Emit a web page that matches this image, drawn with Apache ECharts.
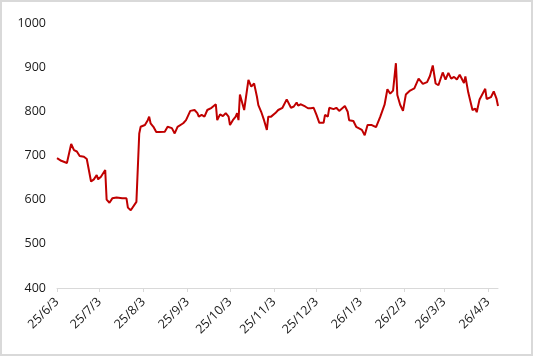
<!DOCTYPE html>
<html>
<head>
<meta charset="utf-8">
<script src="https://cdn.jsdelivr.net/npm/echarts@6/dist/echarts.min.js"></script>
<style>
html,body{margin:0;padding:0;background:#fff;}
#c{width:533px;height:356px;box-sizing:border-box;border:2px solid #d9d9d9;}
</style>
</head>
<body>
<div id="c"></div>
<script>
const dates = [
'2025-06-03','2025-06-06','2025-06-10','2025-06-13','2025-06-15','2025-06-17','2025-06-19','2025-06-22','2025-06-24','2025-06-27',
'2025-06-29','2025-07-01','2025-07-02','2025-07-04','2025-07-07','2025-07-08','2025-07-10','2025-07-12','2025-07-15','2025-07-16',
'2025-07-19','2025-07-22','2025-07-23','2025-07-25','2025-07-29','2025-07-31','2025-08-01','2025-08-04','2025-08-06','2025-08-07',
'2025-08-08','2025-08-10','2025-08-12','2025-08-14','2025-08-18','2025-08-20','2025-08-23','2025-08-25','2025-08-27','2025-08-31',
'2025-09-02','2025-09-05','2025-09-08','2025-09-10','2025-09-11','2025-09-13','2025-09-15','2025-09-17','2025-09-20','2025-09-23',
'2025-09-24','2025-09-26','2025-09-28','2025-09-30','2025-10-02','2025-10-03','2025-10-05','2025-10-07','2025-10-08','2025-10-09',
'2025-10-10','2025-10-13','2025-10-16','2025-10-18','2025-10-20','2025-10-22','2025-10-23','2025-10-25','2025-10-27','2025-10-29',
'2025-10-30','2025-11-01','2025-11-04','2025-11-06','2025-11-09','2025-11-12','2025-11-15','2025-11-17','2025-11-19','2025-11-20',
'2025-11-22','2025-11-25','2025-11-27','2025-11-29','2025-12-01','2025-12-03','2025-12-05','2025-12-08','2025-12-09','2025-12-11',
'2025-12-12','2025-12-15','2025-12-17','2025-12-19','2025-12-23','2025-12-25','2025-12-26','2025-12-29','2025-12-31','2026-01-04',
'2026-01-06','2026-01-08','2026-01-11','2026-01-14','2026-01-17','2026-01-20','2026-01-22','2026-01-24','2026-01-26','2026-01-28',
'2026-01-29','2026-01-31','2026-02-02','2026-02-04','2026-02-07','2026-02-10','2026-02-11','2026-02-13','2026-02-16','2026-02-19',
'2026-02-21','2026-02-23','2026-02-25','2026-02-27','2026-03-02','2026-03-04','2026-03-06','2026-03-08','2026-03-10','2026-03-12',
'2026-03-14','2026-03-17','2026-03-18','2026-03-20','2026-03-21','2026-03-23','2026-03-25','2026-03-26','2026-03-28','2026-04-01',
'2026-04-02','2026-04-05','2026-04-07','2026-04-09','2026-04-10'
];
const values = [
694,688,683,726,712,709,699,697,692,641,
646,656,646,652,667,600,593,603,605,608,
603,603,582,576,595,750,765,769,780,788,
773,765,753,753,754,765,762,750,765,773,
780,801,803,796,788,792,788,803,808,816,
780,793,789,796,788,769,780,788,796,780,
838,803,871,856,863,833,814,799,780,758,
788,788,796,803,808,827,808,811,820,813,
816,811,807,807,808,792,774,774,792,788,
808,805,808,801,812,799,780,778,765,758,
746,769,769,764,788,815,850,840,847,909,
837,815,801,838,847,852,852,874,862,866,
880,904,863,859,888,872,887,874,878,872,
883,864,879,843,843,803,806,798,827,851,
828,832,845,828,812
];
const tickDates = ['2025-06-03','2025-07-03','2025-08-03','2025-09-03','2025-10-03','2025-11-03','2025-12-03','2026-01-03','2026-02-03','2026-03-03','2026-04-03'];
const yTicks = [400,500,600,700,800,900,1000];
const axisStart = '2025-06-03';
const axisEnd = '2026-04-10';

const ts = s => { const p = s.split('-').map(Number); return Date.UTC(p[0], p[1]-1, p[2]); };
const seriesData = dates.map((d,i)=>[ts(d), values[i]]);
const tickTs = tickDates.map(ts);

const chart = echarts.init(document.getElementById('c'));
chart.setOption({
  animation:false,
  grid:{left:55, right:33, top:21, bottom:66, containLabel:false},
  xAxis:{
    type:'value',
    min:ts(axisStart), max:ts(axisEnd),
    axisLine:{show:true, lineStyle:{color:'#d9d9d9', width:1}},
    axisTick:{show:true, customValues:tickTs, length:4, lineStyle:{color:'#d9d9d9'}},
    axisLabel:{
      customValues:tickTs, rotate:45, margin:12,
      color:'#1a1a1a', fontFamily:'Open Sans', fontSize:12.5,
      formatter:function(v){ const d=new Date(v); return (d.getUTCFullYear()%100)+'/'+(d.getUTCMonth()+1)+'/'+d.getUTCDate(); }
    },
    splitLine:{show:false}
  },
  yAxis:{
    type:'value', min:yTicks[0], max:yTicks[yTicks.length-1], interval:100,
    axisLine:{show:false}, axisTick:{show:false}, splitLine:{show:false},
    axisLabel:{color:'#1a1a1a', fontFamily:'Open Sans', fontSize:12.5, margin:11,
      formatter:function(v){ return String(v); }}
  },
  series:[{
    type:'line', data:seriesData, showSymbol:false, symbol:'none',
    lineStyle:{color:'#C00000', width:2}, itemStyle:{color:'#C00000'}
  }]
});
</script>
</body>
</html>
